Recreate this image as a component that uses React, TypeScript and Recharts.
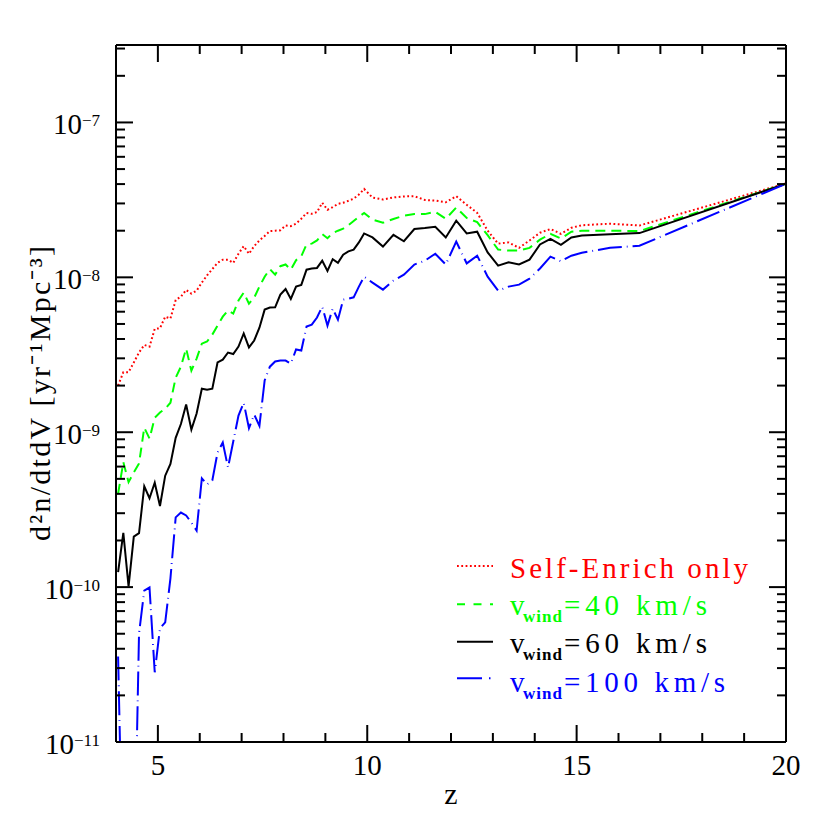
import React from 'react';
import { LineChart, Line, XAxis, YAxis, Legend } from 'recharts';

// redshift grid of the simulation outputs
const redshift = [
  4.05, 4.175, 4.3, 4.425, 4.55, 4.675, 4.8, 4.925, 5.05, 5.175, 5.3, 5.425,
  5.55, 5.675, 5.8, 5.925, 6.05, 6.175, 6.3, 6.425, 6.55, 6.675, 6.8, 6.925,
  7.05, 7.175, 7.3, 7.425, 7.55, 7.675, 7.8, 7.925, 8.05, 8.175, 8.3, 8.425,
  8.55, 8.675, 8.8, 8.925, 9.05, 9.175, 9.3, 9.425, 9.55, 9.675, 9.8, 9.925,
  10.125, 10.375, 10.625, 10.875, 11.125, 11.375, 11.625, 11.875, 12.125,
  12.375, 12.625, 12.875, 13.125, 13.375, 13.625, 13.875, 14.125, 14.375,
  14.625, 14.875, 15.125, 15.8, 16.5, 20.0,
];

const selfEnrich = [
  2.0e-9, 2.44e-9, 2.44e-9, 2.82e-9, 3.27e-9, 3.66e-9, 3.57e-9, 4.65e-9, 4.69e-9, 5.57e-9, 5.42e-9, 7.13e-9,
  7.5e-9, 8.29e-9, 7.85e-9, 8.2e-9, 9.25e-9, 1.03e-8, 1.13e-8, 1.24e-8, 1.3e-8, 1.3e-8, 1.24e-8, 1.42e-8,
  1.59e-8, 1.42e-8, 1.59e-8, 1.73e-8, 1.85e-8, 1.99e-8, 2.0e-8, 2.01e-8, 2.16e-8, 2.14e-8, 2.22e-8, 2.39e-8,
  2.6e-8, 2.57e-8, 2.64e-8, 3.03e-8, 2.73e-8, 2.84e-8, 2.98e-8, 3.03e-8, 3.12e-8, 3.22e-8, 3.42e-8, 3.72e-8,
  3.27e-8, 3.18e-8, 3.28e-8, 3.33e-8, 3.34e-8, 3.16e-8, 3.13e-8, 3.05e-8, 3.34e-8,
  2.94e-8, 2.61e-8, 2.0e-8, 1.65e-8, 1.68e-8, 1.55e-8, 1.73e-8, 1.94e-8, 2.05e-8,
  1.91e-8, 2.09e-8, 2.17e-8, 2.22e-8, 2.16e-8, 4.04e-8,
];

const wind40 = [
  4.01e-10, 6.4e-10, 4.76e-10, 5.5e-10, 6.28e-10, 1.07e-9, 9.1e-10, 1.24e-9, 1.34e-9, 1.42e-9, 1.55e-9, 2.25e-9,
  2.65e-9, 3.47e-9, 2.5e-9, 2.99e-9, 3.73e-9, 3.85e-9, 4.27e-9, 4.88e-9, 5.57e-9, 6.1e-9, 5.83e-9, 7.08e-9,
  7.97e-9, 6.76e-9, 7.39e-9, 8.71e-9, 1.01e-8, 1.13e-8, 1.04e-8, 1.18e-8, 1.21e-8, 1.12e-8, 1.29e-8, 1.37e-8,
  1.63e-8, 1.65e-8, 1.73e-8, 1.9e-8, 1.79e-8, 1.93e-8, 2.0e-8, 2.06e-8, 2.17e-8, 2.31e-8, 2.46e-8, 2.6e-8,
  2.36e-8, 2.25e-8, 2.38e-8, 2.5e-8, 2.56e-8, 2.56e-8, 2.65e-8, 2.39e-8, 2.82e-8,
  2.42e-8, 2.27e-8, 1.87e-8, 1.51e-8, 1.49e-8, 1.49e-8, 1.55e-8, 1.75e-8, 1.91e-8,
  1.78e-8, 1.97e-8, 2.0e-8, 2.0e-8, 1.99e-8, 4.02e-8,
];

const wind60 = [
  1.25e-10, 2.24e-10, 1.01e-10, 2.12e-10, 2.23e-10, 4.47e-10, 3.75e-10, 4.72e-10, 3.34e-10, 5.24e-10, 6.25e-10, 9.2e-10,
  1.13e-9, 1.51e-9, 1.04e-9, 1.32e-9, 1.91e-9, 1.88e-9, 1.91e-9, 2.82e-9, 2.94e-9, 3.27e-9, 3.2e-9, 3.57e-9,
  4.34e-9, 3.53e-9, 3.91e-9, 4.73e-9, 6.19e-9, 6.38e-9, 6.4e-9, 7.73e-9, 8.41e-9, 7.26e-9, 8.71e-9, 8.93e-9,
  1.12e-8, 1.14e-8, 1.15e-8, 1.28e-8, 1.1e-8, 1.31e-8, 1.24e-8, 1.4e-8, 1.47e-8, 1.51e-8, 1.68e-8, 1.92e-8,
  1.81e-8, 1.58e-8, 1.88e-8, 1.71e-8, 2.05e-8, 2.08e-8, 2.12e-8, 1.81e-8, 2.32e-8,
  1.92e-8, 1.97e-8, 1.45e-8, 1.19e-8, 1.25e-8, 1.21e-8, 1.3e-8, 1.63e-8, 1.77e-8,
  1.62e-8, 1.81e-8, 1.86e-8, 1.9e-8, 1.93e-8, 4.02e-8,
];

const wind100 = [
  3.57e-11, 1e-12, 1e-12, 1e-12, 5.03e-11, 9.5e-11, 9.96e-11, 2.82e-11, 5.42e-11, 5.92e-11, 1.14e-10, 2.82e-10,
  3.03e-10, 2.9e-10, 2.61e-10, 2.32e-10, 5.03e-10, 4.6e-10, 4.88e-10, 7.4e-10, 8.58e-10, 5.92e-10, 8.71e-10, 1.28e-9,
  1.55e-9, 1.06e-9, 1.3e-9, 1.1e-9, 2.16e-9, 2.65e-9, 2.86e-9, 2.9e-9, 2.9e-9, 2.77e-9, 3.42e-9, 3.37e-9,
  4.81e-9, 4.95e-9, 5.5e-9, 6.47e-9, 4.88e-9, 6.28e-9, 5.33e-9, 7.18e-9, 7.29e-9, 7.43e-9, 8.71e-9, 1.01e-8,
  9.25e-9, 8.33e-9, 9.52e-9, 1.04e-8, 1.21e-8, 1.28e-8, 1.42e-8, 1.21e-8, 1.7e-8,
  1.23e-8, 1.38e-8, 1.01e-8, 8.2e-9, 8.71e-9, 8.97e-9, 9.81e-9, 1.14e-8, 1.36e-8,
  1.27e-8, 1.38e-8, 1.44e-8, 1.55e-8, 1.6e-8, 4.02e-8,
];

const xDomain = [4, 20];
const xTicks = [4, 5, 6, 7, 8, 9, 10, 11, 12, 13, 14, 15, 16, 17, 18, 19, 20];
const xMajorTicks = [5, 10, 15, 20];
const yDomain = [1e-11, 3.1623e-7];
const yDecades = [-11, -10, -9, -8, -7];
const yMantissas = [1, 2, 3, 4, 5, 6, 7, 8, 9];
const yTicks = yDecades
  .flatMap((d) => yMantissas.map((m) => Number(`${m}e${d}`)))
  .filter((v) => v <= yDomain[1]);

const rows = redshift.map((z, i) => ({
  z,
  selfEnrich: selfEnrich[i],
  wind40: wind40[i],
  wind60: wind60[i],
  wind100: wind100[i],
}));

const FONT = '"Liberation Serif", "Times New Roman", serif';
const MAJOR_LEN = 17;
const MINOR_LEN = 9;
const TICK_W = 2;

const yExp = (v: number) => Math.round(Math.log10(v));
const isMajorY = (v: number) => Math.abs(v / Math.pow(10, yExp(v)) - 1) < 1e-6;
const isMajorX = (v: number) => xMajorTicks.includes(v);

const LeftTick = (props: any) => {
  const { x, y, payload } = props;
  const v = payload.value as number;
  const major = isMajorY(v);
  const e = yExp(v);
  return (
    <g>
      <line x1={x} y1={y} x2={x + (major ? MAJOR_LEN : MINOR_LEN)} y2={y} stroke="#000" strokeWidth={TICK_W} />
      {major && (
        <text x={x - 16} y={y + 11.6} textAnchor="end" fontFamily={FONT} fontSize={29} fill="#000">
          10
          <tspan dy={-8} fontSize={17}>{`\u2212${-e}`}</tspan>
        </text>
      )}
    </g>
  );
};

const RightTick = (props: any) => {
  const { x, y, payload } = props;
  const major = isMajorY(payload.value);
  return <line x1={x} y1={y} x2={x - (major ? MAJOR_LEN : MINOR_LEN)} y2={y} stroke="#000" strokeWidth={TICK_W} />;
};

const BottomTick = (props: any) => {
  const { x, y, payload } = props;
  const major = isMajorX(payload.value);
  return (
    <g>
      <line x1={x} y1={y} x2={x} y2={y - (major ? MAJOR_LEN : MINOR_LEN)} stroke="#000" strokeWidth={TICK_W} />
      {major && (
        <text x={x} y={y + 33} textAnchor="middle" fontFamily={FONT} fontSize={29} fill="#000">
          {payload.value}
        </text>
      )}
    </g>
  );
};

const TopTick = (props: any) => {
  const { x, y, payload } = props;
  const major = isMajorX(payload.value);
  return <line x1={x} y1={y} x2={x} y2={y + (major ? MAJOR_LEN : MINOR_LEN)} stroke="#000" strokeWidth={TICK_W} />;
};

const YTitle = (props: any) => {
  const vb = props.viewBox || { x: 0, y: 37, width: 108, height: 697 };
  const cx = vb.x + 42;
  const cy = vb.y + vb.height / 2;
  return (
    <text
      x={cx}
      y={cy}
      transform={`rotate(-90, ${cx}, ${cy})`}
      textAnchor="middle"
      fontFamily={FONT}
      fontSize={30}
      fill="#000"
      textLength={295}
      lengthAdjust="spacing"
    >
      d²n/dtdV [yr⁻¹Mpc⁻³]
    </text>
  );
};

const XTitle = (props: any) => {
  const vb = props.viewBox || { x: 108, y: 734, width: 670, height: 1 };
  return (
    <text x={vb.x + vb.width / 2} y={vb.y + 62} textAnchor="middle" fontFamily={FONT} fontSize={30} fill="#000">
      z
    </text>
  );
};

const legendRows = [
  { label: 'Self-Enrich only', sub: '', rest: '', color: '#ff0000', dash: '1.8 2.5', width: 2, len: 238 },
  { label: 'v', sub: 'wind', rest: '=40 km/s', color: '#00ff00', dash: '8 8.5', width: 2, len: 143 },
  { label: 'v', sub: 'wind', rest: '=60 km/s', color: '#000000', dash: undefined, width: 2, len: 143 },
  { label: 'v', sub: 'wind', rest: '=100 km/s', color: '#0000ff', dash: '25 7 1.5 7', width: 2, len: 161 },
];
const legendLineY = [21, 59.3, 96.7, 133.3];
const legendBase = [33, 70, 108.3, 146.7];

const LegendBox = () => (
  <svg width={330} height={160} style={{ display: 'block', overflow: 'visible' }}>
    {legendRows.map((r, i) => (
      <g key={i}>
        <line x1={7} x2={43} y1={legendLineY[i]} y2={legendLineY[i]} stroke={r.color} strokeWidth={r.width} strokeDasharray={r.dash} />
        {r.sub ? (
          <>
            <text x={60} y={legendBase[i]} fontFamily={FONT} fontSize={29} fill={r.color}>{r.label}</text>
            <text x={73} y={legendBase[i] + 7} fontFamily={FONT} fontSize={17} fontWeight="bold" fill={r.color} textLength={39} lengthAdjust="spacing">{r.sub}</text>
            <text x={114} y={legendBase[i]} fontFamily={FONT} fontSize={29} fill={r.color} textLength={r.len} lengthAdjust="spacing">{r.rest}</text>
          </>
        ) : (
          <text x={60} y={legendBase[i]} fontFamily={FONT} fontSize={29} fill={r.color} textLength={r.len} lengthAdjust="spacing">{r.label}</text>
        )}
      </g>
    ))}
  </svg>
);

const axisLine = { stroke: '#000', strokeWidth: 2 };

export default function App() {
  return (
    <LineChart width={814} height={814} data={rows} margin={{ top: 36, right: 35, bottom: 79, left: 0 }}>
      <XAxis
        xAxisId="bottom"
        dataKey="z"
        type="number"
        orientation="bottom"
        domain={xDomain}
        allowDataOverflow
        ticks={xTicks}
        interval={0}
        height={1}
        tickSize={0}
        tickMargin={0}
        tickLine={false}
        axisLine={axisLine}
        tick={<BottomTick />}
        label={XTitle}
      />
      <XAxis
        xAxisId="top"
        dataKey="z"
        type="number"
        orientation="top"
        domain={xDomain}
        allowDataOverflow
        ticks={xTicks}
        interval={0}
        height={1}
        tickSize={0}
        tickMargin={0}
        tickLine={false}
        axisLine={axisLine}
        tick={<TopTick />}
      />
      <YAxis
        yAxisId="left"
        type="number"
        scale="log"
        orientation="left"
        domain={yDomain}
        allowDataOverflow
        ticks={yTicks}
        interval={0}
        width={108}
        tickSize={0}
        tickMargin={0}
        tickLine={false}
        axisLine={axisLine}
        tick={<LeftTick />}
        label={YTitle}
      />
      <YAxis
        yAxisId="right"
        type="number"
        scale="log"
        orientation="right"
        domain={yDomain}
        allowDataOverflow
        ticks={yTicks}
        interval={0}
        width={1}
        tickSize={0}
        tickMargin={0}
        tickLine={false}
        axisLine={axisLine}
        tick={<RightTick />}
      />
      <Legend
        layout="vertical"
        align="center"
        verticalAlign="middle"
        content={() => <LegendBox />}
        wrapperStyle={{ left: 442, top: 537, width: 330, height: 160 }}
      />
      <Line xAxisId="bottom" yAxisId="left" type="linear" dataKey="selfEnrich" stroke="#ff0000" strokeWidth={2} strokeDasharray="1.8 2.5" dot={false} isAnimationActive={false} />
      <Line xAxisId="bottom" yAxisId="left" type="linear" dataKey="wind40" stroke="#00ff00" strokeWidth={2} strokeDasharray="10 6" dot={false} isAnimationActive={false} />
      <Line xAxisId="bottom" yAxisId="left" type="linear" dataKey="wind60" stroke="#000000" strokeWidth={2} dot={false} isAnimationActive={false} />
      <Line xAxisId="bottom" yAxisId="left" type="linear" dataKey="wind100" stroke="#0000ff" strokeWidth={2} strokeDasharray="24 5 0.8 5" dot={false} isAnimationActive={false} />
    </LineChart>
  );
}
